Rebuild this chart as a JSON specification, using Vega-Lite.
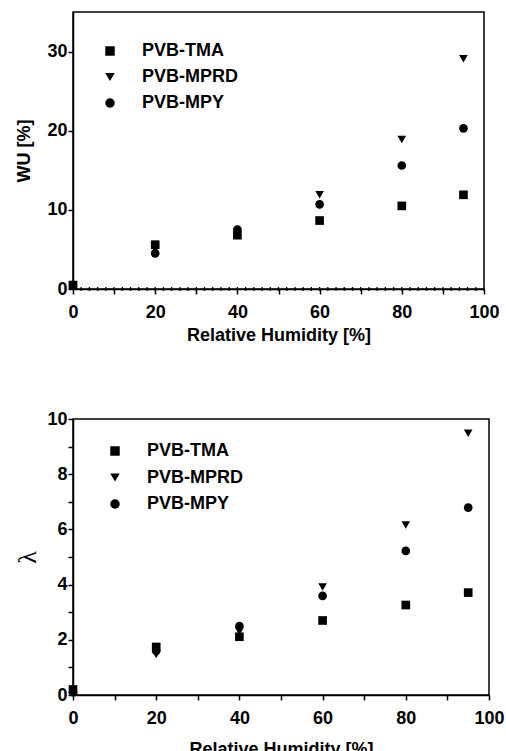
{
  "$schema": "https://vega.github.io/schema/vega-lite/v6.json",
  "background": "white",
  "padding": {"left": 2, "top": 11, "right": 0, "bottom": 0},
  "spacing": 64,
  "columns": 1,
  "align": "none",
  "config": {
    "font": "Liberation Sans",
    "view": {"stroke": "black", "strokeWidth": 1.5},
    "axis": {
      "domainColor": "black", "domainWidth": 1.5, "tickColor": "black", "tickWidth": 1.5,
      "labelFont": "Liberation Sans", "labelFontWeight": "bold", "labelFontSize": 18, "labelColor": "black",
      "titleFont": "Liberation Sans", "titleFontWeight": "bold", "titleFontSize": 18, "titleColor": "black",
      "grid": false, "tickSize": 5
    },
    "legend": {
      "labelFont": "Liberation Sans", "labelFontWeight": "bold", "labelFontSize": 18, "labelColor": "black"
    }
  },
  "datasets": {
    "wu": [
      {"rh": 0, "v": 0.5, "s": "PVB-TMA"},
      {"rh": 20, "v": 5.6, "s": "PVB-TMA"},
      {"rh": 40, "v": 6.8, "s": "PVB-TMA"},
      {"rh": 60, "v": 8.65, "s": "PVB-TMA"},
      {"rh": 80, "v": 10.5, "s": "PVB-TMA"},
      {"rh": 95, "v": 11.9, "s": "PVB-TMA"},
      {"rh": 0, "v": 0.3, "s": "PVB-MPRD"},
      {"rh": 20, "v": 5.0, "s": "PVB-MPRD"},
      {"rh": 40, "v": 7.2, "s": "PVB-MPRD"},
      {"rh": 60, "v": 11.9, "s": "PVB-MPRD"},
      {"rh": 80, "v": 18.9, "s": "PVB-MPRD"},
      {"rh": 95, "v": 29.1, "s": "PVB-MPRD"},
      {"rh": 0, "v": 0.4, "s": "PVB-MPY"},
      {"rh": 20, "v": 4.5, "s": "PVB-MPY"},
      {"rh": 40, "v": 7.5, "s": "PVB-MPY"},
      {"rh": 60, "v": 10.7, "s": "PVB-MPY"},
      {"rh": 80, "v": 15.6, "s": "PVB-MPY"},
      {"rh": 95, "v": 20.3, "s": "PVB-MPY"}
    ],
    "lam": [
      {"rh": 0, "v": 0.2, "s": "PVB-TMA"},
      {"rh": 20, "v": 1.74, "s": "PVB-TMA"},
      {"rh": 40, "v": 2.11, "s": "PVB-TMA"},
      {"rh": 60, "v": 2.7, "s": "PVB-TMA"},
      {"rh": 80, "v": 3.26, "s": "PVB-TMA"},
      {"rh": 95, "v": 3.71, "s": "PVB-TMA"},
      {"rh": 0, "v": 0.1, "s": "PVB-MPRD"},
      {"rh": 20, "v": 1.47, "s": "PVB-MPRD"},
      {"rh": 40, "v": 2.3, "s": "PVB-MPRD"},
      {"rh": 60, "v": 3.91, "s": "PVB-MPRD"},
      {"rh": 80, "v": 6.16, "s": "PVB-MPRD"},
      {"rh": 95, "v": 9.48, "s": "PVB-MPRD"},
      {"rh": 0, "v": 0.1, "s": "PVB-MPY"},
      {"rh": 20, "v": 1.6, "s": "PVB-MPY"},
      {"rh": 40, "v": 2.5, "s": "PVB-MPY"},
      {"rh": 60, "v": 3.59, "s": "PVB-MPY"},
      {"rh": 80, "v": 5.22, "s": "PVB-MPY"},
      {"rh": 95, "v": 6.79, "s": "PVB-MPY"}
    ]
  },
  "concat": [
    {
      "width": 411,
      "height": 277,
      "layer": [
        {
          "data": {"values": [{"z": 0}]},
          "mark": {"type": "rule", "color": "black", "strokeWidth": 4, "strokeDash": [1.3, 6.92], "strokeDashOffset": 0.65},
          "encoding": {"y": {"field": "z", "type": "quantitative", "scale": {"domain": [0, 35], "nice": false}}}
        },
        {
          "data": {"name": "wu"},
          "mark": {"type": "point", "filled": true, "opacity": 1, "size": 75, "color": "black"},
          "encoding": {
            "x": {"field": "rh", "type": "quantitative", "scale": {"domain": [0, 100], "nice": false},
              "axis": {"title": "Relative Humidity [%]", "values": [0,10,20,30,40,50,60,70,80,90,100],
                "labelExpr": "datum.value % 20 === 0 ? datum.label : ''", "labelPadding": 9, "titlePadding": 5, "labelFlush": false}},
            "y": {"field": "v", "type": "quantitative", "scale": {"domain": [0, 35], "nice": false},
              "axis": {"title": "WU [%]", "values": [0,5,10,15,20,25,30,35],
                "labelExpr": "datum.value % 10 === 0 && datum.value < 35 ? datum.label : ''", "labelPadding": 1, "titlePadding": 13}},
            "shape": {"field": "s", "type": "nominal",
              "scale": {"domain": ["PVB-TMA", "PVB-MPRD", "PVB-MPY"], "range": ["square", "triangle-down", "circle"]},
              "legend": {"title": null, "orient": "none", "legendX": 28, "legendY": 30, "symbolSize": 90, "symbolFillColor": "black", "symbolStrokeColor": "black", "rowPadding": 8, "labelOffset": 23}}
          }
        }
      ]
    },
    {
      "width": 416,
      "height": 276,
      "data": {"name": "lam"},
      "mark": {"type": "point", "filled": true, "opacity": 1, "size": 75, "color": "black"},
      "encoding": {
        "x": {"field": "rh", "type": "quantitative", "scale": {"domain": [0, 100], "nice": false},
          "axis": {"title": "Relative Humidity [%]", "values": [0,10,20,30,40,50,60,70,80,90,100],
            "labelExpr": "datum.value % 20 === 0 ? datum.label : ''", "labelPadding": 9, "titlePadding": 13, "labelFlush": false}},
        "y": {"field": "v", "type": "quantitative", "scale": {"domain": [0, 10], "nice": false},
          "axis": {"title": ["", "λ"], "titleFont": "Liberation Serif", "titleFontWeight": "normal", "titleFontSize": 26, "titleLineHeight": 12,
            "values": [0,1,2,3,4,5,6,7,8,9,10],
            "labelExpr": "datum.value % 2 === 0 ? datum.label : ''", "labelPadding": 1, "titlePadding": 6}},
        "shape": {"field": "s", "type": "nominal",
          "scale": {"domain": ["PVB-TMA", "PVB-MPRD", "PVB-MPY"], "range": ["square", "triangle-down", "circle"]},
          "legend": {"title": null, "orient": "none", "legendX": 33, "legendY": 23, "symbolSize": 90, "symbolFillColor": "black", "symbolStrokeColor": "black", "rowPadding": 8.5, "labelOffset": 23}}
      }
    }
  ],
  "resolve": {"legend": {"shape": "independent"}}
}
